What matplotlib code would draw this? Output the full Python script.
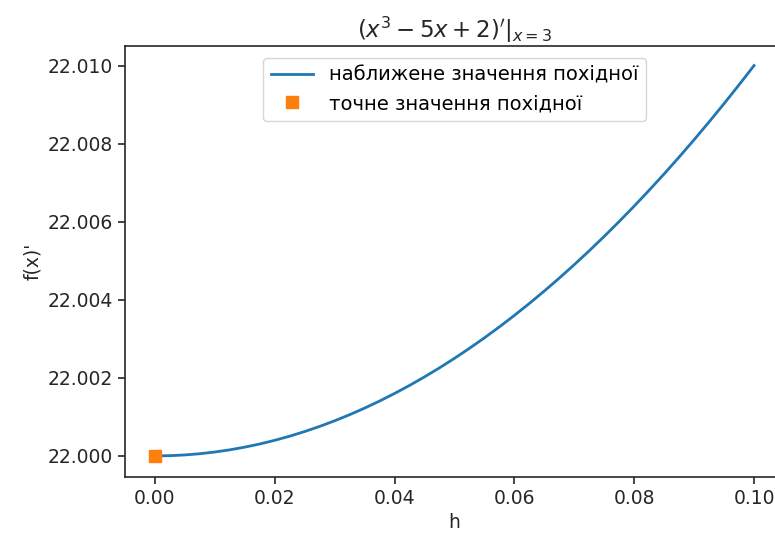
import matplotlib
matplotlib.use("Agg")
import matplotlib.pyplot as plt

# data
h_vals = [0.0, 0.0025, 0.005, 0.0075, 0.01, 0.0125, 0.015, 0.0175, 0.02, 0.0225,
          0.025, 0.0275, 0.03, 0.0325, 0.035, 0.0375, 0.04, 0.0425, 0.045, 0.0475,
          0.05, 0.0525, 0.055, 0.0575, 0.06, 0.0625, 0.065, 0.0675, 0.07, 0.0725,
          0.075, 0.0775, 0.08, 0.0825, 0.085, 0.0875, 0.09, 0.0925, 0.095, 0.0975, 0.1]
approx_vals = [22.0, 22.00000625, 22.000025, 22.00005625, 22.0001, 22.00015625,
               22.000225, 22.00030625, 22.0004, 22.00050625, 22.000625, 22.00075625,
               22.0009, 22.00105625, 22.001225, 22.00140625, 22.0016, 22.00180625,
               22.002025, 22.00225625, 22.0025, 22.00275625, 22.003025, 22.00330625,
               22.0036, 22.00390625, 22.004225, 22.00455625, 22.0049, 22.00525625,
               22.005625, 22.00600625, 22.0064, 22.00680625, 22.007225, 22.00765625,
               22.0081, 22.00855625, 22.009025, 22.00950625, 22.01]
exact_h = [0.0]
exact_val = [22.0]

line_label = "наближене значення похідної"
point_label = "точне значення похідної"
title = r"$(x^3-5x+2)'|_{x=3}$"

fs = 13.5
fig = plt.figure(figsize=(7.75, 5.33), dpi=100)
W, H = 775, 533
ax = fig.add_axes([125 / W, 56 / H, (784 - 125) / W, (477 - 46) / H])

ax.plot(h_vals, approx_vals, color="#1f77b4", lw=2.0, label=line_label)
ax.plot(exact_h, exact_val, "s", color="#ff7f0e", ms=8.5, label=point_label)

ax.set_xlim(-0.005, 0.105)
ax.set_ylim(21.99946, 22.0105)
ax.set_xticks([0.0, 0.02, 0.04, 0.06, 0.08, 0.10])
ax.set_xticklabels(["0.00", "0.02", "0.04", "0.06", "0.08", "0.10"])
ax.set_yticks([22.000, 22.002, 22.004, 22.006, 22.008, 22.010])
ax.set_yticklabels(["22.000", "22.002", "22.004", "22.006", "22.008", "22.010"])
ax.tick_params(labelsize=fs, length=5, width=1.2, colors="#262626")
for s in ax.spines.values():
    s.set_linewidth(1.2)
    s.set_color("#262626")
ax.spines["right"].set_visible(False)

ax.set_xlabel("h", fontsize=fs, color="#262626")
ax.set_ylabel("f(x)'", fontsize=fs, color="#262626")
ax.set_title(title, fontsize=16.5, color="#262626", pad=6)
ax.legend(loc="upper center", fontsize=14, bbox_to_anchor=(0.5, 1.0), borderaxespad=0.6,
          handlelength=2.2)

fig.savefig("out.png", dpi=100)
